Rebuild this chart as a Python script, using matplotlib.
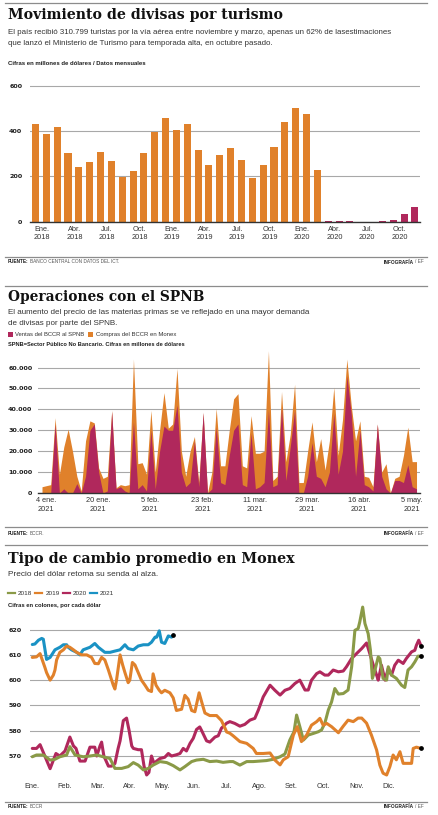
import matplotlib
matplotlib.use("Agg")
import matplotlib.pyplot as plt
from matplotlib.lines import Line2D
from matplotlib.patches import Rectangle

W, H = 439, 815

ORANGE = "#e0812b"
MAGENTA = "#b0285c"
GREEN = "#8a9a47"
BLUE = "#1a92c4"
GRID = "#a8a8a8"
RULE = "#8c8c8c"
DARK = "#1e1e1e"
SANS = ["Liberation Sans Narrow", "Liberation Sans", "DejaVu Sans"]
SERIF = ["DejaVu Serif"]

# --- panel 1: divisas por turismo (millones de dolares, mensual) ---
turismo = [431, 390, 419, 306, 244, 265, 309, 269, 196, 223, 303, 398,
           459, 406, 434, 315, 251, 297, 328, 273, 195, 251, 330, 441,
           501, 476, 227, 4, 1, 3, 0.5, 0.5, 1.5, 6, 32, 63]
meses_turismo = ["Ene.\n2018", "Abr.\n2018", "Jul.\n2018", "Oct.\n2018",
                 "Ene.\n2019", "Abr.\n2019", "Jul.\n2019", "Oct.\n2019",
                 "Ene.\n2020", "Abr.\n2020", "Jul.\n2020", "Oct.\n2020"]
ticks_turismo = [0, 200, 400, 600]

# --- panel 2: operaciones con el SPNB (diario habil 2021) ---
compras = [3000, 3500, 4000, 36000, 9000, 22000, 30500, 20000, 8000, 1000,
           25000, 34500, 33500, 12000, 7000, 8000, 39500, 2500, 4000, 3500,
           4000, 64000, 14000, 14500, 9000, 39500, 10000, 30000, 48000, 31000,
           33000, 59500, 20000, 8000, 20000, 27000, 5000, 38500, 0, 10000,
           40500, 13000, 13000, 30000, 45000, 47500, 13000, 12000, 37000, 19000,
           19000, 20000, 68000, 6000, 8000, 48500, 15000, 28000, 52000, 5000,
           5000, 20000, 34000, 15000, 26000, 11000, 25000, 50500, 18000, 35000,
           64000, 42000, 25000, 34500, 8000, 7500, 3000, 33000, 10000, 14000,
           0, 7000, 8000, 18000, 31500, 15000, 15000]
ventas = [0, 0, 0, 33000, 0, 2000, 0, 0, 4500, 0,
          8000, 30000, 33000, 10000, 0, 1000, 39000, 2000, 3000, 1000,
          0, 34000, 2000, 4000, 1000, 30000, 2000, 20000, 32000, 30000,
          30000, 42000, 10000, 3000, 5000, 25000, 3000, 38500, 0, 2000,
          31500, 5000, 4000, 18000, 30000, 33000, 4000, 3000, 28500, 2000,
          3000, 5000, 39500, 3000, 4000, 41000, 6000, 22000, 39500, 0,
          0, 8000, 24000, 8000, 7000, 3000, 10000, 38000, 9000, 20000,
          56000, 38000, 8000, 30000, 4000, 3000, 1000, 33000, 8000, 2000,
          0, 6000, 6000, 5000, 13500, 3000, 2000]
fechas_spnb = ["4 ene.\n2021", "20 ene.\n2021", "5 feb.\n2021", "23 feb.\n2021",
               "11 mar.\n2021", "29 mar.\n2021", "16 abr.\n2021", "5 may.\n2021"]
ticks_spnb = [0, 10000, 20000, 30000, 40000, 50000, 60000]
labels_spnb = ["0", "10.000", "20.000", "30.000", "40.000", "50.000", "60.000"]

# --- panel 3: tipo de cambio (mes como fraccion del ano) ---
m2018 = [0, 0.13, 0.34, 0.55, 0.70, 0.85, 1.06, 1.16, 1.32, 1.57, 1.78, 1.99, 2.19,
         2.40, 2.55, 2.76, 2.96, 3.12, 3.27, 3.43, 3.58, 3.73, 3.94, 4.15, 4.35,
         4.56, 4.71, 4.92, 5.07, 5.28, 5.48, 5.69, 5.89, 6.10, 6.20, 6.41, 6.62,
         6.82, 7.03, 7.23, 7.44, 7.65, 7.80, 7.95, 8.08, 8.16, 8.26, 8.37, 8.52,
         8.67, 8.83, 8.93, 9.03, 9.14, 9.24, 9.34, 9.45, 9.60, 9.75, 9.86, 9.96,
         10.06, 10.11, 10.20, 10.27, 10.37, 10.44, 10.50, 10.58, 10.68, 10.73,
         10.83, 10.94, 10.99, 11.09, 11.24, 11.40, 11.50, 11.60, 11.71, 11.81,
         11.91, 12.0]
v2018 = [569.7, 570.4, 570.4, 568.4, 568.7, 569.7, 570.4, 573.7, 570.4, 569.7, 570.0,
         570.4, 569.7, 569.0, 565.1, 565.1, 565.8, 567.4, 566.4, 564.5, 565.1, 566.4,
         567.8, 567.4, 566.2, 564.5, 565.8, 567.8, 568.4, 568.7, 567.8, 568.0, 567.5,
         567.8, 567.8, 566.4, 567.8, 567.8, 568.0, 568.2, 568.7, 569.7, 570.8, 576.3,
         579.6, 586.2, 581.6, 576.3, 578.3, 578.9, 579.6, 580.3, 582.9, 588.2, 591.4,
         596.7, 594.5, 594.7, 596.1, 605.3, 619.7, 620.4, 623.0, 628.9, 622.4, 618.4,
         611.8, 600.7, 604.0, 609.2, 608.5, 600.7, 600.0, 605.3, 602.0, 600.7, 598.0,
         597.1, 604.0, 605.3, 607.2, 609.5, 609.5]
m2019 = [0, 0.13, 0.24, 0.39, 0.44, 0.55, 0.65, 0.70, 0.75, 0.85, 0.96, 1.06, 1.16,
         1.27, 1.37, 1.52, 1.68, 1.83, 1.93, 2.04, 2.14, 2.24, 2.35, 2.50, 2.55, 2.60,
         2.71, 2.79, 2.86, 2.96, 3.01, 3.09, 3.17, 3.27, 3.37, 3.48, 3.58, 3.68, 3.73,
         3.82, 3.92, 3.99, 4.09, 4.25, 4.35, 4.45, 4.61, 4.71, 4.81, 4.92, 5.02, 5.15,
         5.26, 5.33, 5.48, 5.69, 5.84, 5.95, 6.00, 6.10, 6.20, 6.41, 6.62, 6.82, 6.92,
         7.13, 7.34, 7.49, 7.65, 7.75, 7.90, 8.06, 8.18, 8.31, 8.47, 8.62, 8.78, 8.88,
         8.98, 9.09, 9.24, 9.45, 9.60, 9.75, 9.91, 10.06, 10.17, 10.32, 10.47, 10.63,
         10.73, 10.83, 10.94, 11.04, 11.14, 11.24, 11.35, 11.45, 11.60, 11.71, 11.76,
         11.86, 12.0]
v2019 = [609.0, 609.2, 610.5, 605.0, 603.0, 600.0, 602.0, 604.0, 608.0, 611.0, 612.0,
         613.5, 613.0, 612.0, 611.0, 610.0, 610.0, 609.0, 606.6, 606.5, 609.0, 608.0,
         604.0, 598.0, 596.5, 600.0, 610.0, 606.0, 603.0, 599.0, 600.0, 607.0, 606.0,
         603.0, 600.0, 598.0, 596.0, 595.5, 602.5, 598.0, 596.0, 595.0, 596.0, 595.0,
         593.0, 588.0, 588.5, 594.0, 592.5, 588.0, 587.5, 595.0, 590.0, 587.0, 586.0,
         586.0, 584.0, 581.0, 579.5, 579.0, 578.0, 575.7, 575.0, 573.0, 571.0, 571.0,
         571.2, 568.4, 566.5, 568.5, 569.7, 578.3, 581.6, 575.7, 578.3, 582.2, 583.6,
         584.9, 582.2, 582.9, 581.6, 579.2, 581.8, 584.2, 583.6, 585.0, 585.0, 583.0,
         578.3, 572.4, 566.4, 563.2, 562.5, 565.8, 570.4, 568.5, 571.7, 567.1, 567.1,
         567.1, 573.0, 573.5, 573.0]
m2020 = [0, 0.13, 0.24, 0.55, 0.73, 0.85, 1.01, 1.16, 1.27, 1.35, 1.47, 1.63, 1.78,
         1.93, 1.99, 2.09, 2.14, 2.21, 2.35, 2.45, 2.55, 2.65, 2.71, 2.81, 2.91, 2.99,
         3.07, 3.12, 3.27, 3.37, 3.45, 3.53, 3.60, 3.68, 3.76, 3.84, 3.94, 4.09, 4.20,
         4.30, 4.45, 4.56, 4.66, 4.76, 4.87, 4.97, 5.07, 5.17, 5.23, 5.38, 5.48, 5.64,
         5.74, 5.84, 6.00, 6.10, 6.25, 6.41, 6.56, 6.72, 6.87, 6.98, 7.13, 7.34, 7.49,
         7.65, 7.80, 7.95, 8.11, 8.26, 8.42, 8.52, 8.62, 8.78, 8.88, 9.03, 9.14, 9.29,
         9.45, 9.60, 9.70, 9.86, 10.01, 10.17, 10.32, 10.42, 10.53, 10.63, 10.68, 10.78,
         10.89, 10.99, 11.09, 11.19, 11.30, 11.45, 11.55, 11.71, 11.81, 11.86, 11.93,
         12.0]
v2020 = [573.0, 573.0, 574.5, 565.0, 571.0, 570.0, 572.0, 577.5, 574.0, 573.0, 568.0,
         568.0, 573.5, 573.5, 570.0, 574.0, 575.5, 570.0, 566.0, 566.0, 567.0, 573.0,
         576.0, 584.0, 585.0, 580.0, 574.0, 573.0, 572.5, 572.5, 566.0, 562.5, 563.5,
         570.0, 567.0, 568.0, 569.0, 569.5, 571.0, 570.0, 570.5, 571.0, 573.0, 572.0,
         575.0, 577.0, 580.5, 581.5, 580.0, 576.0, 575.5, 577.5, 578.0, 581.0, 583.0,
         583.6, 582.9, 581.8, 582.5, 584.2, 584.9, 588.2, 593.4, 598.0, 596.0, 594.1,
         596.0, 596.7, 598.7, 600.0, 596.1, 596.1, 600.0, 602.6, 603.3, 602.0, 602.0,
         604.0, 603.3, 603.6, 605.3, 608.6, 610.5, 612.5, 614.7, 610.5, 605.9, 602.0,
         600.0, 605.9, 600.0, 604.6, 602.0, 605.9, 607.9, 606.6, 608.6, 611.2, 611.8,
         613.8, 615.8, 613.6]
m2021 = [0, 0.08, 0.19, 0.29, 0.34, 0.44, 0.55, 0.70, 0.85, 0.96, 1.06, 1.11, 1.21,
         1.37, 1.47, 1.57, 1.78, 1.93, 2.04, 2.14, 2.24, 2.40, 2.55, 2.71, 2.86, 2.96,
         3.12, 3.27, 3.43, 3.58, 3.68, 3.79, 3.84, 3.92, 3.99, 4.09, 4.20, 4.30, 4.35]
v2021 = [614.1, 614.3, 615.8, 616.5, 616.2, 608.2, 609.0, 612.0, 613.0, 614.0, 614.0,
         613.0, 612.0, 611.0, 610.0, 612.0, 613.0, 614.5, 613.0, 612.0, 611.0, 611.0,
         611.5, 612.0, 614.0, 612.5, 612.0, 613.5, 614.0, 614.0, 615.0, 617.0, 617.0,
         619.5, 615.0, 614.5, 617.5, 617.0, 617.8]
meses = ["Ene.", "Feb.", "Mar.", "Abr.", "May.", "Jun.", "Jul.", "Ago.", "Set.",
         "Oct.", "Nov.", "Dic."]
ticks_tc = [570, 580, 590, 600, 610, 620]

fig = plt.figure(figsize=(W / 100, H / 100), dpi=100)
fig.patch.set_facecolor("white")
renderer = fig.canvas.get_renderer()


# positions below are in pixels from the top-left corner of the page
def px_axes(left, top, right, bottom):
	ax = fig.add_axes([left / W, 1 - bottom / H, (right - left) / W, (bottom - top) / H])
	ax.patch.set_alpha(0)
	for s in ax.spines.values():
		s.set_visible(False)
	ax.tick_params(length=0)
	return ax


def texto(x, y, s, size, width=None, **kw):
	kw.setdefault("va", "center")
	kw.setdefault("family", SANS)
	kw.setdefault("color", DARK)
	t = fig.text(x / W, 1 - y / H, s, fontsize=size, **kw)
	if width:
		# scale the font so the text spans the same width as in the print
		bb = t.get_window_extent(renderer)
		t.set_fontsize(size * width / bb.width)
	return t


def regla(y):
	fig.add_artist(Line2D([5 / W, 427 / W], [1 - y / H] * 2, color=RULE, lw=0.9))


def pie(y, fuente):
	t = texto(8, y, "FUENTE:", 3.4, weight="bold")
	bb = t.get_window_extent(renderer)
	texto(bb.x1 + 1, y, fuente, 3.4, color="#555")
	r = texto(424, y, "/ EF", 3.4, ha="right", color="#555")
	bb = r.get_window_extent(renderer)
	texto(bb.x0 - 2, y, "INFOGRAFÍA", 3.4, ha="right", weight="bold")


def yticks(ax, ticks, labels, pad):
	ax.set_yticks(ticks)
	ax.set_yticklabels(labels, fontsize=4.6, fontweight="bold", color=DARK)
	ax.tick_params(axis="y", pad=pad)
	ax.grid(axis="y", color=GRID, lw=0.8)
	ax.set_axisbelow(True)


# # # # # # # # # # # # #
#   panel 1: turismo    #
# # # # # # # # # # # # #
regla(3)
texto(8, 19.5, "Movimiento de divisas por turismo", 10, width=275, family=SERIF,
      weight="bold", va="baseline", color="#111")
t = texto(8, 32.3, "El país recibió 310.799 turistas por la vía aérea entre noviembre y marzo, "
          "apenas un 62% de lasestimaciones", 6, width=387, color="#333")
texto(8, 43.3, "que lanzó el Ministerio de Turismo para temporada alta, en octubre pasado.",
      t.get_fontsize(), color="#333")
texto(8, 63.3, "Cifras en millones de dólares / Datos mensuales", 4, width=135, weight="bold")

ax1 = px_axes(30, 81.5, 420, 221.7)
colores = [ORANGE if i < 27 else MAGENTA for i in range(len(turismo))]  # desde abr. 2020
ax1.bar(range(len(turismo)), turismo, width=0.65, color=colores, zorder=2)
ax1.set_xlim(-0.507, 35.47)
ax1.set_ylim(0, 620)
yticks(ax1, ticks_turismo, [str(v) for v in ticks_turismo], 5.5)
ax1.axhline(0, color="#333", lw=1, clip_on=False, zorder=3)
ax1.set_xticks([i + 0.6 for i in range(0, len(turismo), 3)])
ax1.set_xticklabels(meses_turismo, fontsize=5.3, color="#333", family=SANS, linespacing=1.3)
ax1.tick_params(axis="x", pad=3)

regla(256.5)
pie(262, "BANCO CENTRAL CON DATOS DEL ICT.")

# # # # # # # # # # # # #
#   panel 2: SPNB       #
# # # # # # # # # # # # #
regla(285.7)
texto(8, 301, "Operaciones con el SPNB", 10, width=197, family=SERIF, weight="bold",
      va="baseline", color="#111")
t = texto(8, 313, "El aumento del precio de las materias primas se ve reflejado en una mayor "
          "demanda", 6, width=304, color="#333")
texto(8, 323.5, "de divisas por parte del SPNB.", t.get_fontsize(), color="#333")
fig.add_artist(Rectangle((8 / W, 1 - 336.5 / H), 5 / W, 5 / H, color=MAGENTA, lw=0))
texto(15, 334, "Ventas del BCCR al SPNB", 4.5, width=70, color="#333")
fig.add_artist(Rectangle((88 / W, 1 - 336.5 / H), 5 / W, 5 / H, color=ORANGE, lw=0))
texto(96, 334, "Compras del BCCR en Monex", 4.5, width=81, color="#333")
texto(8, 345, "SPNB=Sector Público No Bancario. Cifras en millones de dólares", 4,
      width=175, weight="bold")

ax2 = px_axes(38, 348.7, 420, 493)
dias = range(len(compras))
ax2.fill_between(dias, compras, color=ORANGE, lw=0, zorder=2)
ax2.fill_between(dias, ventas, color=MAGENTA, lw=0, zorder=2)
ax2.set_xlim(-0.92, 86.8)
ax2.set_ylim(0, 69000)
yticks(ax2, ticks_spnb, labels_spnb, 4)
ax2.axhline(0, color="#333", lw=1, clip_on=False, zorder=3)
ax2.set_xticks([0.85 + 12 * k for k in range(len(fechas_spnb))])
ax2.set_xticklabels(fechas_spnb, fontsize=5.3, color="#333", family=SANS, linespacing=1.3)
ax2.tick_params(axis="x", pad=3.2)

regla(527)
pie(533.3, "BCCR.")

# # # # # # # # # # # # #
#   panel 3: Monex      #
# # # # # # # # # # # # #
regla(545)
texto(8, 562.5, "Tipo de cambio promedio en Monex", 10, width=287, family=SERIF,
      weight="bold", va="baseline", color="#111")
texto(8, 575, "Precio del dólar retoma su senda al alza.", 6, width=152, color="#333")
series = [("2018", m2018, v2018, GREEN, 3), ("2019", m2019, v2019, ORANGE, 4),
          ("2020", m2020, v2020, MAGENTA, 2), ("2021", m2021, v2021, BLUE, 1)]
for k, (nombre, m, v, c, z) in enumerate(series):
	x0 = 8 + 27.3 * k
	fig.add_artist(Line2D([x0 / W, (x0 + 7) / W], [1 - 593.3 / H] * 2, color=c, lw=1.6))
	texto(x0 + 10, 593.3, nombre, 4.6, color="#333")
texto(8, 605, "Cifras en colones, por cada dólar", 4, width=92, weight="bold")

ax3 = px_axes(30, 604.3, 420, 781.3)
for nombre, m, v, c, z in series:
	ax3.plot(m, v, color=c, lw=2.2, solid_joinstyle="round", solid_capstyle="round",
	         zorder=z, clip_on=False)
	ax3.plot(m[-1], v[-1], "o", color="black", ms=2.4, zorder=6, clip_on=False)
ax3.set_xlim(-0.071, 11.97)
ax3.set_ylim(560, 630)
yticks(ax3, ticks_tc, [str(v) for v in ticks_tc], 6)
ax3.set_xticks(range(12))
ax3.set_xticklabels(meses, fontsize=5.3, color="#333", family=SANS)
ax3.tick_params(axis="x", pad=1.5)

regla(801.5)
pie(806.7, "BCCR")

fig.savefig("out.png", dpi=100, facecolor="white")
